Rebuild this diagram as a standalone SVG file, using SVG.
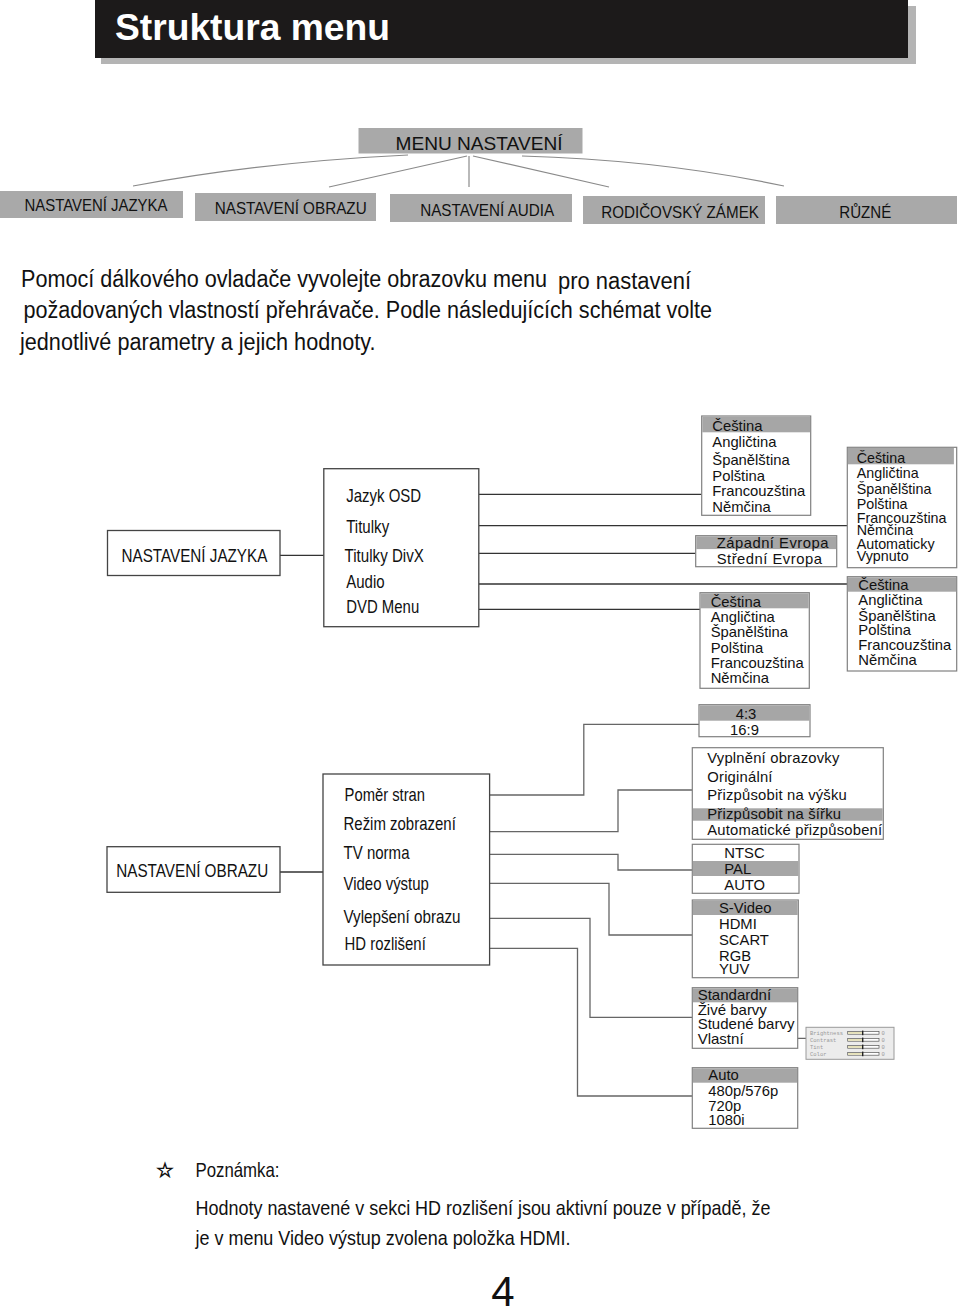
<svg xmlns="http://www.w3.org/2000/svg" width="960" height="1310" viewBox="0 0 960 1310">
<style>
.t{font-family:"Liberation Sans",Arial,sans-serif;fill:#111}
.opt{font-family:"Liberation Sans",Arial,sans-serif;font-size:14.8px;fill:#111}
.top{fill:#a9a9a9}
.box{fill:#fff;stroke:#444;stroke-width:1.3}
.obox{fill:#fff;stroke:#808080;stroke-width:1.2}
.sel{fill:#a6a6a6}
.ln{stroke:#333;stroke-width:1.3;fill:none}
.gl{stroke:#666;stroke-width:1.3;fill:none}
.tl{stroke:#8a8a8a;stroke-width:1.2;fill:none}
.mono{font-family:"Liberation Mono",monospace;font-size:5.5px;fill:#9a9a9a}
</style>
<rect width="960" height="1310" fill="#fff"/>
<g id="title">
<rect x="101" y="6" width="815" height="58" fill="#b4b4b4"/>
<rect x="95" y="0" width="813" height="58" fill="#1c1a1a"/>
<text x="115" y="40" font-size="37" font-weight="bold" class="t" style="fill:#fff" textLength="275" lengthAdjust="spacingAndGlyphs">Struktura menu</text>
</g>
<g id="connectors">
<path class="tl" d="M408 155 Q262 162 133 186"/>
<path class="tl" d="M467 156 L329 187"/>
<path class="tl" d="M469 156 L469 187"/>
<path class="tl" d="M473 156 L609 187"/>
<path class="tl" d="M522 156 Q662 160 784 186"/>
<path class="ln" d="M280 555.3 H323.8"/>
<path class="ln" d="M478.8 494.3 H701.7"/>
<path class="ln" d="M478.8 525.7 H847.3"/>
<path class="ln" d="M478.8 553.3 H695.7"/>
<path class="ln" d="M478.8 584 H847.3"/>
<path class="ln" d="M478.8 609.3 H700"/>
<path class="ln" d="M280 872 H323"/>
<path class="gl" d="M489.6 795 H583.8 V724.3 H699"/>
<path class="gl" d="M489.6 831.7 H618 V790 H692.3"/>
<path class="gl" d="M489.6 854.3 H618 V870 H692.3"/>
<path class="gl" d="M489.6 883.3 H609 V935 H692.3"/>
<path class="gl" d="M489.6 918.3 H590 V1017.3 H692.3"/>
<path class="gl" d="M489.6 948.3 H577.5 V1096 H692.3"/>
<path class="gl" d="M746.7 1038.3 H806"/>
</g>
<g id="menu-nastaveni">
<rect class="top" x="358.5" y="128" width="224" height="25.5"/>
<text class="t" x="395.5" y="150" font-size="18" textLength="167" lengthAdjust="spacingAndGlyphs">MENU NASTAVENÍ</text>
</g>
<g id="top-jazyka">
<rect class="top" x="0" y="191" width="183" height="27"/>
<text class="t" x="24.5" y="211" font-size="16.5" textLength="143" lengthAdjust="spacingAndGlyphs">NASTAVENÍ JAZYKA</text>
</g>
<g id="top-obrazu">
<rect class="top" x="195" y="193" width="181" height="28"/>
<text class="t" x="214.7" y="213.5" font-size="16.5" textLength="152" lengthAdjust="spacingAndGlyphs">NASTAVENÍ OBRAZU</text>
</g>
<g id="top-audia">
<rect class="top" x="390" y="194" width="182" height="28"/>
<text class="t" x="420.2" y="215.5" font-size="16.5" textLength="134" lengthAdjust="spacingAndGlyphs">NASTAVENÍ AUDIA</text>
</g>
<g id="top-zamek">
<rect class="top" x="583" y="196" width="182" height="28"/>
<text class="t" x="601.2" y="218" font-size="16.5" textLength="157.7" lengthAdjust="spacingAndGlyphs">RODIČOVSKÝ ZÁMEK</text>
</g>
<g id="top-ruzne">
<rect class="top" x="776" y="196" width="181" height="28"/>
<text class="t" x="839.3" y="218" font-size="16.5" textLength="52" lengthAdjust="spacingAndGlyphs">RŮZNÉ</text>
</g>
<g id="intro">
<text class="t" x="21" y="287" font-size="23" textLength="526" lengthAdjust="spacingAndGlyphs">Pomocí dálkového ovladače vyvolejte obrazovku menu</text>
<text class="t" x="558" y="288.5" font-size="23" textLength="133" lengthAdjust="spacingAndGlyphs">pro nastavení</text>
<text class="t" x="23.5" y="317.5" font-size="23" textLength="688.5" lengthAdjust="spacingAndGlyphs">požadovaných vlastností přehrávače. Podle následujících schémat volte</text>
<text class="t" x="20" y="350" font-size="23" textLength="355.5" lengthAdjust="spacingAndGlyphs">jednotlivé parametry a jejich hodnoty.</text>
</g>
<g id="nastaveni-jazyka">
<rect class="box" x="107.5" y="530.5" width="172.5" height="45"/>
<text class="t" x="121.5" y="561.5" font-size="19" textLength="145.8" lengthAdjust="spacingAndGlyphs">NASTAVENÍ JAZYKA</text>
</g>
<g id="jazyk-items">
<rect class="box" x="323.8" y="468.7" width="155" height="158"/>
<text class="t" x="346.2" y="501.5" font-size="19" textLength="75" lengthAdjust="spacingAndGlyphs">Jazyk OSD</text>
<text class="t" x="346.2" y="533" font-size="19" textLength="43" lengthAdjust="spacingAndGlyphs">Titulky</text>
<text class="t" x="344.6" y="561.5" font-size="19" textLength="79.2" lengthAdjust="spacingAndGlyphs">Titulky DivX</text>
<text class="t" x="346.2" y="588" font-size="19" textLength="38.4" lengthAdjust="spacingAndGlyphs">Audio</text>
<text class="t" x="346.2" y="612.5" font-size="19" textLength="73" lengthAdjust="spacingAndGlyphs">DVD Menu</text>
</g>
<g id="osd-jazyky">
<rect class="obox" x="701.7" y="416" width="109" height="99.3"/>
<rect class="sel" x="702.3" y="416.6" width="107.8" height="15.7"/>
<text class="opt" x="712.3" y="430.5">Čeština</text>
<text class="opt" x="712.3" y="447">Angličtina</text>
<text class="opt" x="712.3" y="465">Španělština</text>
<text class="opt" x="712.3" y="480.5">Polština</text>
<text class="opt" x="712.3" y="496">Francouzština</text>
<text class="opt" x="712.3" y="511.5">Němčina</text>
</g>
<g id="titulky-jazyky">
<rect class="obox" x="847.3" y="447.3" width="109.4" height="120.4"/>
<rect class="sel" x="847.9" y="447.9" width="106" height="16.4"/>
<g style="font-size:14.3px">
<text class="opt" style="font-size:14.3px" x="856.7" y="463.3">Čeština</text>
<text class="opt" style="font-size:14.3px" x="856.7" y="478">Angličtina</text>
<text class="opt" style="font-size:14.3px" x="856.7" y="493.5">Španělština</text>
<text class="opt" style="font-size:14.3px" x="856.7" y="509.3">Polština</text>
<text class="opt" style="font-size:14.3px" x="856.7" y="522.5">Francouzština</text>
<text class="opt" style="font-size:14.3px" x="856.7" y="534.8">Němčina</text>
<text class="opt" style="font-size:14.3px" x="856.7" y="548.5">Automaticky</text>
<text class="opt" style="font-size:14.3px" x="856.7" y="561">Vypnuto</text>
</g>
</g>
<g id="divx-kodovani">
<rect class="obox" x="695.7" y="535.7" width="141" height="31"/>
<rect class="sel" x="696.3" y="536.3" width="139.8" height="12.8"/>
<text class="opt" x="716.7" y="547.5" style="letter-spacing:0.5px">Západní Evropa</text>
<text class="opt" x="716.7" y="564" style="letter-spacing:0.5px">Střední Evropa</text>
</g>
<g id="audio-jazyky">
<rect class="obox" x="847.3" y="576.7" width="109.4" height="94.3"/>
<rect class="sel" x="847.9" y="577.3" width="108.2" height="14.4"/>
<text class="opt" x="858.3" y="590">Čeština</text>
<text class="opt" x="858.3" y="604.5">Angličtina</text>
<text class="opt" x="858.3" y="620.7">Španělština</text>
<text class="opt" x="858.3" y="634.5">Polština</text>
<text class="opt" x="858.3" y="650">Francouzština</text>
<text class="opt" x="858.3" y="665">Němčina</text>
</g>
<g id="dvd-menu-jazyky">
<rect class="obox" x="700" y="592.7" width="109.3" height="95.6"/>
<rect class="sel" x="700.6" y="593.3" width="108.1" height="15"/>
<text class="opt" x="710.7" y="606.7">Čeština</text>
<text class="opt" x="710.7" y="621.7">Angličtina</text>
<text class="opt" x="710.7" y="637">Španělština</text>
<text class="opt" x="710.7" y="652.7">Polština</text>
<text class="opt" x="710.7" y="668.3">Francouzština</text>
<text class="opt" x="710.7" y="683.3">Němčina</text>
</g>
<g id="nastaveni-obrazu">
<rect class="box" x="107" y="846.7" width="173" height="45.6"/>
<text class="t" x="116.2" y="877" font-size="19" textLength="152" lengthAdjust="spacingAndGlyphs">NASTAVENÍ OBRAZU</text>
</g>
<g id="obraz-items">
<rect class="box" x="323" y="774" width="166.6" height="191"/>
<text class="t" x="344.6" y="801" font-size="19" textLength="80.4" lengthAdjust="spacingAndGlyphs">Poměr stran</text>
<text class="t" x="343.5" y="830" font-size="19" textLength="112.3" lengthAdjust="spacingAndGlyphs">Režim zobrazení</text>
<text class="t" x="343.5" y="859.3" font-size="19" textLength="66" lengthAdjust="spacingAndGlyphs">TV norma</text>
<text class="t" x="343.5" y="890" font-size="19" textLength="85.4" lengthAdjust="spacingAndGlyphs">Video výstup</text>
<text class="t" x="343.5" y="923.3" font-size="19" textLength="117" lengthAdjust="spacingAndGlyphs">Vylepšení obrazu</text>
<text class="t" x="344.6" y="950" font-size="19" textLength="81.2" lengthAdjust="spacingAndGlyphs">HD rozlišení</text>
</g>
<g id="pomer-stran">
<rect class="obox" x="699" y="704.7" width="111" height="32"/>
<rect class="sel" x="699.6" y="705.3" width="109.8" height="15.4"/>
<text class="opt" x="746" y="718.5" text-anchor="middle">4:3</text>
<text class="opt" x="744.5" y="734.5" text-anchor="middle">16:9</text>
</g>
<g id="rezim-zobrazeni">
<rect class="obox" x="692.3" y="747.7" width="191" height="91.6"/>
<rect class="sel" x="692.9" y="808.3" width="189.8" height="12.4"/>
<text class="opt" x="707.3" y="763.3" style="letter-spacing:0.2px">Vyplnění obrazovky</text>
<text class="opt" x="707.3" y="781.7" style="letter-spacing:0.2px">Originální</text>
<text class="opt" x="707.3" y="800" style="letter-spacing:0.2px">Přizpůsobit na výšku</text>
<text class="opt" x="707.3" y="819" style="letter-spacing:0.2px">Přizpůsobit na šířku</text>
<text class="opt" x="707.3" y="835" style="letter-spacing:0.2px">Automatické přizpůsobení</text>
</g>
<g id="tv-norma">
<rect class="obox" x="692.3" y="844.3" width="106.7" height="49"/>
<rect class="sel" x="692.9" y="861" width="105.5" height="15"/>
<text class="opt" x="724.3" y="858.3">NTSC</text>
<text class="opt" x="724.3" y="874">PAL</text>
<text class="opt" x="724.3" y="890">AUTO</text>
</g>
<g id="video-vystup">
<rect class="obox" x="692.3" y="900" width="106" height="77.7"/>
<rect class="sel" x="692.9" y="900.6" width="104.8" height="14.4"/>
<text class="opt" x="719" y="913.3">S-Video</text>
<text class="opt" x="719" y="929.3">HDMI</text>
<text class="opt" x="719" y="945">SCART</text>
<text class="opt" x="719" y="960.5">RGB</text>
<text class="opt" x="719" y="973.5">YUV</text>
</g>
<g id="vylepseni-obrazu">
<rect class="obox" x="692.3" y="987.7" width="105.4" height="60.6"/>
<rect class="sel" x="692.9" y="988.3" width="104.2" height="14"/>
<text class="opt" x="697.7" y="1000" style="font-size:15px">Standardní</text>
<text class="opt" x="697.7" y="1015" style="font-size:15px">Živé barvy</text>
<text class="opt" x="697.7" y="1028.5" style="font-size:15px">Studené barvy</text>
<text class="opt" x="697.7" y="1043.5" style="font-size:15px">Vlastní</text>
</g>
<g id="vlastni-panel">
<rect x="806" y="1027.3" width="88" height="32" fill="#ececec" stroke="#9a9a9a" stroke-width="1"/>
<text class="mono" x="810" y="1035">Brightness</text>
<text class="mono" x="810" y="1042">Contrast</text>
<text class="mono" x="810" y="1049">Tint</text>
<text class="mono" x="810" y="1056">Color</text>
<g stroke="#555" stroke-width="0.7">
<rect x="847.7" y="1031.6" width="31.3" height="2.6" fill="#fff"/>
<rect x="847.7" y="1038.6" width="31.3" height="2.6" fill="#fff"/>
<rect x="847.7" y="1045.6" width="31.3" height="2.6" fill="#fff"/>
<rect x="847.7" y="1052.6" width="31.3" height="2.6" fill="#fff"/>
</g>
<g fill="#e6e2b8">
<rect x="848.1" y="1032" width="14" height="1.8"/>
<rect x="848.1" y="1039" width="14" height="1.8"/>
<rect x="848.1" y="1046" width="14" height="1.8"/>
<rect x="848.1" y="1053" width="14" height="1.8"/>
</g>
<g fill="#222">
<rect x="862" y="1030.6" width="1.4" height="4.6"/>
<rect x="862" y="1037.6" width="1.4" height="4.6"/>
<rect x="862" y="1044.6" width="1.4" height="4.6"/>
<rect x="862" y="1051.6" width="1.4" height="4.6"/>
</g>
<text class="mono" x="881.5" y="1035">0</text>
<text class="mono" x="881.5" y="1042">0</text>
<text class="mono" x="881.5" y="1049">0</text>
<text class="mono" x="881.5" y="1056">0</text>
</g>
<g id="hd-rozliseni">
<rect class="obox" x="692.3" y="1067.7" width="105.4" height="60.6"/>
<rect class="sel" x="692.9" y="1068.3" width="104.2" height="14.4"/>
<text class="opt" x="708.3" y="1080" style="font-size:14.8px">Auto</text>
<text class="opt" x="708.3" y="1096" style="font-size:14.8px">480p/576p</text>
<text class="opt" x="708.3" y="1110.5" style="font-size:14.8px">720p</text>
<text class="opt" x="708.3" y="1124.5" style="font-size:14.8px">1080i</text>
</g>
<g id="poznamka">
<text x="165" y="1177" font-size="20" text-anchor="middle" stroke="#111" stroke-width="0.8" style="font-family:'DejaVu Sans',sans-serif;fill:#fff">☆</text>
<text class="t" x="195.5" y="1177" font-size="21" textLength="84" lengthAdjust="spacingAndGlyphs">Poznámka:</text>
<text class="t" x="195.5" y="1215" font-size="21" textLength="575" lengthAdjust="spacingAndGlyphs">Hodnoty nastavené v sekci HD rozlišení jsou aktivní pouze v případě, že</text>
<text class="t" x="195.5" y="1245" font-size="21" textLength="375" lengthAdjust="spacingAndGlyphs">je v menu Video výstup zvolena položka HDMI.</text>
</g>
<g id="page-number">
<text class="t" x="503" y="1306" font-size="42" text-anchor="middle">4</text>
</g>
</svg>
